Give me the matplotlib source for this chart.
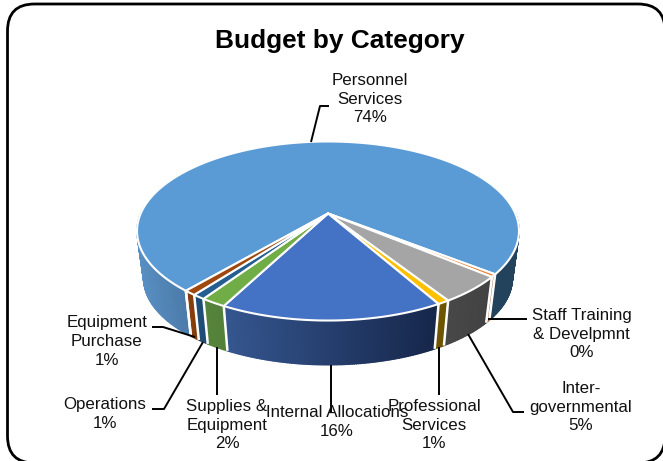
import numpy as np
import matplotlib
matplotlib.use("Agg")
import matplotlib.pyplot as plt
from matplotlib.patches import FancyBboxPatch, Polygon

# Budget shares, clockwise from the start angle
categories = ["Personnel\nServices", "Staff Training\n& Develpmnt", "Inter-\ngovernmental",
              "Professional\nServices", "Internal Allocations", "Supplies &\nEquipment",
              "Operations", "Equipment\nPurchase"]
shares = [74.49, 0.48, 4.87, 0.85, 15.75, 1.80, 0.90, 0.86]

top_colors = ["#5b9bd5", "#ed7d31", "#a5a5a5", "#ffc000", "#4472c4", "#70ad47", "#255e91", "#9e480e"]
# Side wall shading: colour at the left and right end of each wall
side_left = ["#5a90c4", "#a9683f", "#484848", "#705600", "#35568f", "#56843a", "#1e4f7a", "#8a3f0f"]
side_right = ["#4a7aa8", "#a9683f", "#424242", "#6b5200", "#16264a", "#52803a", "#1e4a72", "#833c0b"]

START_DEG = -139.8
CX, CY = 328.0, 213.5        # pie centre as seen in perspective
HALF_W, HALF_H = 187.3, 86.1
PERSPECTIVE = 0.1955
DEPTH = 48.0
FLOOR_SCALE = 0.965


def rim(theta_deg):
    """Top rim of the pie; angles run clockwise from the far side."""
    t = np.radians(theta_deg)
    x, y = np.sin(t), -np.cos(t)
    f = 1 - PERSPECTIVE * y
    return CX + HALF_W * x / f, CY + HALF_H * y / f


def floor(theta_deg):
    """Lower rim of the pie, slightly smaller and shifted downward."""
    x, y = rim(theta_deg)
    return CX + FLOOR_SCALE * (x - CX), CY + FLOOR_SCALE * (y - CY) + DEPTH


def hex_rgb(c):
    return np.array(matplotlib.colors.to_rgb(c))


fig = plt.figure(figsize=(6.63, 4.61), dpi=100)
ax = fig.add_axes([0, 0, 1, 1])
ax.set_xlim(0, 663)
ax.set_ylim(461, 0)
ax.axis("off")
plt.rcParams["font.family"] = ["Liberation Sans", "DejaVu Sans"]

# Rounded outer frame, running just past the right and lower edges
ax.add_patch(FancyBboxPatch((7.5 + 27, 4 + 27), 657.5 - 54, 459 - 54,
                            boxstyle="round,pad=27,rounding_size=27",
                            fc="white", ec="black", lw=2.0, zorder=0))

fractions = np.array(shares) / sum(shares)
edges = START_DEG + np.concatenate([[0], np.cumsum(fractions)]) * 360

# Side walls, only on the part of the rim that faces the viewer.
# Each run is drawn from the far side toward the viewer so nearer strips stay on top.
for i in range(len(shares)):
    lo, hi = edges[i], edges[i + 1]
    walls = [(lo, hi)]
    if i == 0:
        walls = [(90, hi), (-85, lo)]
    for a, b in walls:
        n = max(int(abs(b - a) * 2), 2)
        th = np.linspace(a, b, n + 1)
        xs = [rim(v)[0] for v in th]
        x_min, x_max = min(xs), max(xs)
        for u, v in zip(th[:-1], th[1:]):
            mid = rim((u + v) / 2)[0]
            if i == 0:
                # the large slice has a pale left wall and a dark right wall
                if mid > CX:
                    col = hex_rgb("#23435d")
                else:
                    s = (mid - 136) / 52
                    col = hex_rgb(side_left[0]) * (1 - s) + hex_rgb(side_right[0]) * s
            else:
                s = (mid - x_min) / max(x_max - x_min, 1e-6)
                col = hex_rgb(side_left[i]) * (1 - s) + hex_rgb(side_right[i]) * s
            col = np.clip(col, 0, 1)
            quad = [rim(u), rim(v), floor(v), floor(u)]
            ax.add_patch(Polygon(quad, fc=col, ec=col, lw=1.0, zorder=1))

# White seams between walls
for e in edges:
    if 100 < (e % 360) < 260:
        ax.plot(*zip(rim(e), floor(e)), color="white", lw=1.8, zorder=2, solid_capstyle="butt")

# Top face of each slice
for i in range(len(shares)):
    th = np.linspace(edges[i], edges[i + 1], max(int(edges[i + 1] - edges[i]) * 2, 4))
    pts = [(CX, CY)] + [rim(v) for v in th]
    ax.add_patch(Polygon(pts, fc=top_colors[i], ec="white", lw=1.5, zorder=3, joinstyle="round"))

# Leader lines from the slices out to their labels
leaders = [
    [(311, 142), (320, 106), (329, 106)],
    [(488, 319), (527, 319)],
    [(468, 334), (513, 412), (524, 412)],
    [(439, 347), (439, 395)],
    [(331, 365), (331, 412)],
    [(217, 347), (217, 395)],
    [(203, 342), (164, 409), (152, 409)],
    [(195, 337), (163, 327), (152, 327)],
]
for path in leaders:
    ax.plot(*zip(*path), color="black", lw=1.4, zorder=4, solid_capstyle="butt")

# Label centres
label_xy = [(370, 99), (581.5, 334), (581, 407), (434, 425), (337, 422), (227, 425), (105, 414), (107, 341.5)]
for name, share, (lx, ly) in zip(categories, shares, label_xy):
    ax.text(lx, ly, f"{name}\n{round(share)}%", ha="center", va="center",
            fontsize=12.2, color="#111111", linespacing=1.3, zorder=5)

ax.text(340, 41, "Budget by Category", ha="center", va="center",
        fontsize=18.9, fontweight="bold", color="black", zorder=5)

fig.savefig("out.png", dpi=100, facecolor="white")
